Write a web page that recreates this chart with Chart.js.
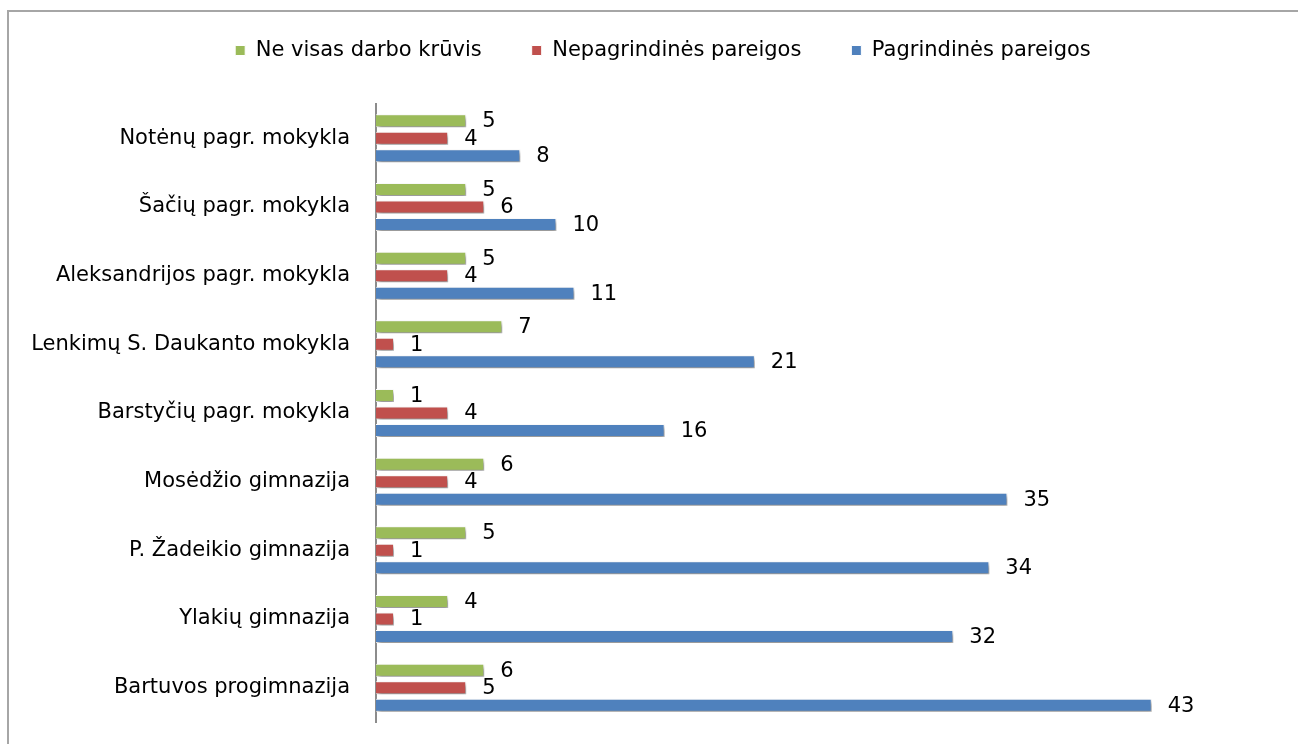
<!DOCTYPE html>
<html lang="lt">
<head>
<meta charset="utf-8">
<title>Mokyklos</title>
<script src="https://cdn.jsdelivr.net/npm/chart.js@4"></script>
<style>
    html, body { margin: 0; padding: 0; background: #fff; overflow: hidden; }
    #marco { position: absolute; left: 7px; top: 10px; width: 1320px; height: 800px; border: 2px solid #a6a6a6; box-sizing: border-box; }
    #contenedor { position: absolute; left: 0; top: 0; width: 1298px; height: 744px; }
</style>
</head>
<body>
<div id="marco"></div>
<div id="contenedor"><canvas id="grafico"></canvas></div>
<script>
// --- Datos ---
const mokyklos = [
    "Notėnų pagr. mokykla",
    "Šačių pagr. mokykla",
    "Aleksandrijos pagr. mokykla",
    "Lenkimų S. Daukanto mokykla",
    "Barstyčių pagr. mokykla",
    "Mosėdžio gimnazija",
    "P. Žadeikio gimnazija",
    "Ylakių gimnazija",
    "Bartuvos progimnazija"
];
const neVisasKruvis = [5, 5, 5, 7, 1, 6, 5, 4, 6];
const nepagrindines = [4, 6, 4, 1, 4, 4, 1, 1, 5];
const pagrindines = [8, 10, 11, 21, 16, 35, 34, 32, 43];

const fuente = "'DejaVu Sans', sans-serif";

// --- Plugins ---
const sombraBarras = {
    id: "sombraBarras",
    beforeDatasetsDraw(chart) {
        const ctx = chart.ctx;
        ctx.save();
        ctx.shadowColor = "rgba(0,0,0,0.45)";
        ctx.shadowOffsetX = 2;
        ctx.shadowOffsetY = 3;
        ctx.shadowBlur = 4;
    },
    afterDatasetsDraw(chart) {
        chart.ctx.restore();
    }
};

const etiquetas = {
    id: "etiquetas",
    afterDatasetsDraw(chart) {
        const ctx = chart.ctx;
        ctx.save();
        ctx.font = "21px " + fuente;
        ctx.fillStyle = "#000";
        ctx.textAlign = "left";
        ctx.textBaseline = "middle";
        chart.data.datasets.forEach((ds, i) => {
            chart.getDatasetMeta(i).data.forEach((bar, j) => {
                ctx.fillText(String(ds.data[j]), bar.x + 16, bar.y + 1);
            });
        });
        ctx.restore();
    }
};

// leyenda: alto fijo y un poco desplazada (como en el original)
const ajusteLeyenda = {
    id: "ajusteLeyenda",
    beforeInit(chart) {
        const fitOriginal = chart.legend.fit;
        chart.legend.fit = function () {
            fitOriginal.bind(chart.legend)();
            this.height = 104;
        };
    },
    afterLayout(chart) {
        const ley = chart.legend;
        ley.left += 24;
        ley.right += 24;
        ley.top -= 10;
        ley.bottom -= 10;
    }
};

// --- Grafico ---
new Chart(document.getElementById("grafico"), {
    type: "bar",
    data: {
        labels: mokyklos,
        datasets: [
            { label: "Ne visas darbo krūvis", data: neVisasKruvis, backgroundColor: "#9BBB59" },
            { label: "Nepagrindinės pareigos", data: nepagrindines, backgroundColor: "#C0504D" },
            { label: "Pagrindinės pareigos", data: pagrindines, backgroundColor: "#4F81BD" }
        ]
    },
    options: {
        indexAxis: "y",
        responsive: true,
        maintainAspectRatio: false,
        animation: false,
        datasets: {
            bar: { categoryPercentage: 0.765, barPercentage: 0.74, borderColor: "#fff", borderWidth: 1 }
        },
        layout: { padding: { left: 0, right: 20, top: 0, bottom: 22 } },
        plugins: {
            legend: {
                position: "top",
                labels: {
                    font: { family: fuente, size: 21 },
                    color: "#000",
                    boxWidth: 10,
                    boxHeight: 10,
                    padding: 50
                }
            },
            tooltip: { enabled: false }
        },
        scales: {
            x: { display: false, min: 0, max: 50 },
            y: {
                grid: { display: false, drawTicks: false },
                border: { display: true, color: "#8c8c8c", width: 2 },
                ticks: { font: { family: fuente, size: 21 }, color: "#000", padding: 26 },
                afterFit(scale) {
                    scale.width = 376;
                    scale.paddingTop = 0;
                    scale.paddingBottom = 0;
                }
            }
        }
    },
    plugins: [sombraBarras, etiquetas, ajusteLeyenda]
});
</script>
</body>
</html>
